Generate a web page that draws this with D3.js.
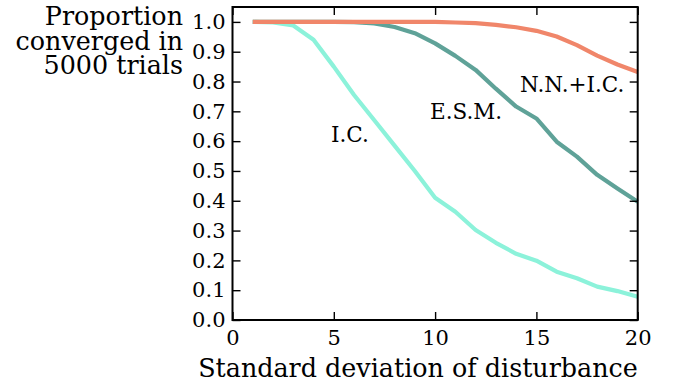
<!DOCTYPE html>
<html>
<head>
<meta charset="utf-8">
<script src="https://cdn.jsdelivr.net/npm/d3@7"></script>
<style>
  body { margin: 0; background: #fff; }
</style>
</head>
<body>
<div id="chart"></div>
<script>
const width = 678;
const height = 383;
const margin = {top: 7, right: 40.3, bottom: 63, left: 232.5};
const FONT = "DejaVu Serif";

// データ
const sd = d3.range(1, 21);
const icValues = [1.0, 0.998, 0.988, 0.94, 0.85, 0.755, 0.67, 0.585, 0.50, 0.41,
                  0.363, 0.302, 0.259, 0.222, 0.199, 0.162, 0.14, 0.112, 0.097, 0.078];
const esmValues = [1.0, 1.0, 1.0, 1.0, 1.0, 0.999, 0.995, 0.983, 0.962, 0.928,
                   0.886, 0.839, 0.776, 0.716, 0.676, 0.598, 0.548, 0.487, 0.441, 0.397];
const nnValues = [1.0, 1.0, 1.0, 1.0, 1.0, 1.0, 1.0, 1.0, 1.0, 1.0,
                  0.998, 0.996, 0.99, 0.982, 0.97, 0.951, 0.922, 0.887, 0.857, 0.832];
const seriesNames = ["I.C.", "E.S.M.", "N.N.+I.C."];
const xTicks = [0, 5, 10, 15, 20];
const yTicks = d3.range(0, 11).map(i => i / 10);

const series = [
    {name: seriesNames[0], values: icValues, color: "#8cf2da", label: [4.86, 0.596]},
    {name: seriesNames[1], values: esmValues, color: "#5fa298", label: [9.75, 0.674]},
    {name: seriesNames[2], values: nnValues, color: "#f0866a", label: [14.19, 0.766]}
];

const svg = d3.select("#chart")
    .append("svg")
    .attr("width", width)
    .attr("height", height)
    .style("font-family", FONT);

const x = d3.scaleLinear().domain([0, 20]).range([margin.left, width - margin.right]);
const y = d3.scaleLinear().domain([0, 1.05]).range([height - margin.bottom, margin.top]);

const line = d3.line()
    .x((d, i) => x(sd[i]))
    .y(d => y(d));

// 線
series.forEach(s => {
    svg.append("path")
        .datum(s.values)
        .attr("fill", "none")
        .attr("stroke", s.color)
        .attr("stroke-width", 4.2)
        .attr("stroke-linejoin", "round")
        .attr("d", line);
});

// 系列ラベル
series.forEach(s => {
    svg.append("text")
        .attr("x", x(s.label[0]))
        .attr("y", y(s.label[1]))
        .style("font-family", FONT)
        .style("font-size", "21.5px")
        .text(s.name);
});

// 軸（内向きの目盛り）
const tickLen = 8;
svg.append("g")
    .attr("transform", `translate(0,${height - margin.bottom})`)
    .call(d3.axisBottom(x).tickValues(xTicks).tickSize(-tickLen).tickPadding(10.5).tickFormat(d3.format("d")));
svg.append("g")
    .attr("transform", `translate(0,${margin.top})`)
    .call(d3.axisTop(x).tickValues(xTicks).tickSize(-tickLen).tickFormat(""));
svg.append("g")
    .attr("transform", `translate(${margin.left},0)`)
    .call(d3.axisLeft(y).tickValues(yTicks).tickSize(-tickLen).tickPadding(7).tickFormat(d3.format(".1f")));
svg.append("g")
    .attr("transform", `translate(${width - margin.right},0)`)
    .call(d3.axisRight(y).tickValues(yTicks).tickSize(-tickLen).tickFormat(""));

svg.selectAll(".domain").remove();
svg.selectAll(".tick line").attr("stroke", "#000").attr("stroke-width", 1.4);
svg.selectAll(".tick text")
    .attr("fill", "#000")
    .style("font-family", FONT)
    .style("font-size", "21px");

// 枠
svg.append("rect")
    .attr("x", margin.left)
    .attr("y", margin.top)
    .attr("width", width - margin.right - margin.left)
    .attr("height", height - margin.bottom - margin.top)
    .attr("fill", "none")
    .attr("stroke", "#000")
    .attr("stroke-width", 2);

// 軸ラベル
svg.append("text")
    .attr("x", 418)
    .attr("y", 377)
    .attr("text-anchor", "middle")
    .style("font-family", FONT)
    .style("font-size", "25.4px")
    .text("Standard deviation of disturbance");

const yLabel = ["Proportion", "converged in", "5000 trials"];
yLabel.forEach((t, i) => {
    svg.append("text")
        .attr("x", 183)
        .attr("y", 25 + i * 24.5)
        .attr("text-anchor", "end")
        .style("font-family", FONT)
        .style("font-size", "25.4px")
        .text(t);
});
</script>
</body>
</html>
